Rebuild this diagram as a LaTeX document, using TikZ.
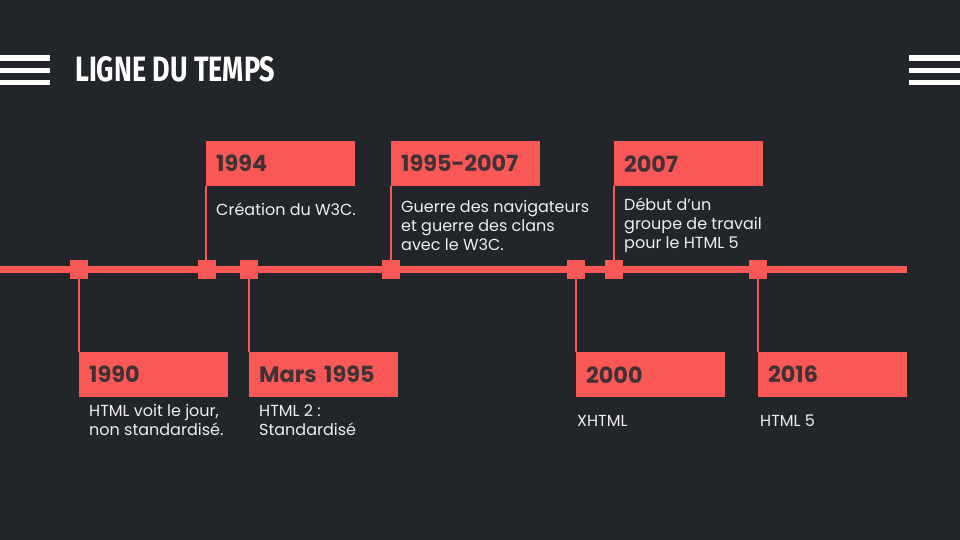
\documentclass[tikz,border=0pt]{standalone}
\usepackage{fontspec}
\usepackage{graphicx}
\setmainfont{Poppins}
\newfontfamily\titlefont{Fira Sans}

\definecolor{bgdark}{RGB}{34,38,42}
\definecolor{coral}{RGB}{250,88,86}
\definecolor{ink}{RGB}{62,50,54}
\definecolor{paper}{RGB}{238,238,238}

\tikzset{
  bar/.style={fill=white},
  track/.style={draw=coral, line width=6.5pt},
  marker/.style={fill=coral, minimum size=18.5pt, inner sep=0pt, outer sep=0pt},
  yearbox/.style={fill=coral, minimum width=149pt, minimum height=45pt,
    text width=129pt, align=left, inner xsep=10pt, inner ysep=0pt,
    text=ink, font=\fontsize{22.3}{26}\selectfont\bfseries, anchor=north west},
  desc/.style={text=paper, font=\fontsize{16}{18.8}\selectfont, align=left,
    inner sep=0pt, anchor=base west},
  link/.style={draw=coral, line width=1.4pt},
}

\begin{document}
\begin{tikzpicture}[x=1pt, y=-1pt]
  % background and page frame
  \fill[bgdark] (0,0) rectangle (960,540);
  \useasboundingbox (0,0) rectangle (960,540);

  % menu bars at both sides of the heading
  \fill[bar] (0,55.5) rectangle (50,61);
  \fill[bar] (0,68) rectangle (50,73.5);
  \fill[bar] (0,80) rectangle (50,85.5);
  \fill[bar] (909,55.5) rectangle (960,61);
  \fill[bar] (909,68) rectangle (960,73.5);
  \fill[bar] (909,80) rectangle (960,85.5);

  % heading
  \node[anchor=south west, inner sep=0pt, text=white] (title) at (75,82)
    {\resizebox{200pt}{25pt}{\titlefont\bfseries LIGNE DU TEMPS}};

  % main track
  \coordinate (tstart) at (0,269.5);
  \coordinate (tend) at (906.5,269.5);
  \draw[track] (tstart) -- (tend);

  % markers on the track
  \node[marker] (m1990) at (79,269.5) {};
  \node[marker] (m1994) at (207,269.5) {};
  \node[marker] (m1995) at (249,269.5) {};
  \node[marker] (m9507) at (391,269.5) {};
  \node[marker] (m2000) at (576,269.5) {};
  \node[marker] (m2007) at (614,269.5) {};
  \node[marker] (m2016) at (758,269.5) {};

  % year boxes above the track
  \node[yearbox] (y1994) at (206,141) {1994};
  \node[yearbox] (y9507) at (391,141) {1995-2007};
  \node[yearbox] (y2007) at (614,141) {2007};

  % year boxes below the track
  \node[yearbox] (y1990) at (79,352) {1990};
  \node[yearbox] (y1995) at (249,352) {Mars 1995};
  \node[yearbox] (y2000) at (576,352) {2000};
  \node[yearbox] (y2016) at (758,352) {2016};

  % links between markers and boxes
  \draw[link] (y1994.south west) -- (y1994.south west |- m1994.north);
  \draw[link] (y9507.south west) -- (y9507.south west |- m9507.north);
  \draw[link] (y2007.south west) -- (y2007.south west |- m2007.north);
  \draw[link] (y1990.north west) -- (y1990.north west |- m1990.south);
  \draw[link] (y1995.north west) -- (y1995.north west |- m1995.south);
  \draw[link] (y2000.north west) -- (y2000.north west |- m2000.south);
  \draw[link] (y2016.north west) -- (y2016.north west |- m2016.south);

  % descriptions (multi-line nodes are placed by their last baseline)
  \node[desc] (d1994) at (216,215) {Création du W3C.};
  \node[desc] (d9507) at (401,250) {Guerre des navigateurs\\et guerre des clans\\avec le W3C.};
  \node[desc] (d2007) at (624,248) {Début d’un\\groupe de travail\\pour le HTML 5};
  \node[desc] (d1990) at (89,435.7) {HTML voit le jour,\\non standardisé.};
  \node[desc] (d1995) at (259,435.7) {HTML 2 :\\Standardisé};
  \node[desc] (d2000) at (577,426) {XHTML};
  \node[desc] (d2016) at (760,426) {HTML 5};
\end{tikzpicture}
\end{document}
